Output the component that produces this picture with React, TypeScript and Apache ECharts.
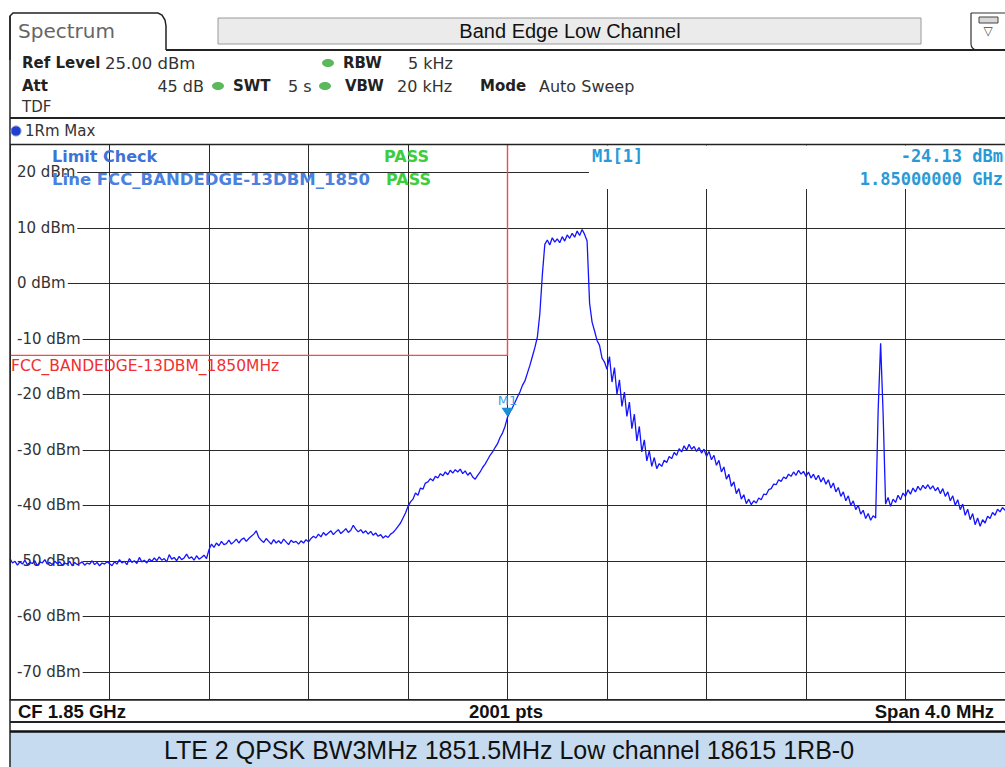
import React, { useEffect, useRef } from "react";
import * as echarts from "echarts";

// ---- Data ----
const traceStartMHz = 1848;
const traceStepMHz = 0.01; // 401 samples across the 4 MHz span
const traceDbm: number[] = [
  -49.6,-50.4,-50.1,-50.8,-50.2,-50.6,-49.9,-50.7,-50.3,-50.5,-50.0,-50.9,-50.2,-50.4,-49.8,-50.6,-50.3,-50.7,-50.1,-50.5,
  -50.2,-50.8,-50.4,-50.6,-50.1,-50.9,-50.3,-50.7,-50.5,-50.2,-50.8,-50.4,-50.6,-50.0,-50.7,-50.3,-50.9,-50.4,-50.6,-50.2,
  -50.5,-50.9,-50.2,-50.6,-49.8,-50.4,-50.1,-50.7,-49.6,-50.3,-50.0,-50.5,-49.4,-50.2,-49.9,-50.4,-49.7,-50.1,-49.5,-50.0,
  -49.3,-49.9,-49.6,-50.2,-48.9,-49.7,-49.4,-50.0,-49.2,-49.8,-49.5,-48.8,-49.6,-49.3,-49.9,-49.1,-49.7,-49.4,-49.0,-49.6,
  -48.0,-47.0,-47.6,-46.8,-47.3,-46.5,-47.1,-46.9,-46.3,-47.0,-46.6,-46.1,-46.8,-46.2,-45.9,-46.5,-46.0,-45.6,-45.2,-44.6,
  -45.8,-46.3,-46.7,-46.0,-46.5,-47.0,-46.2,-46.8,-46.4,-46.9,-46.1,-46.6,-47.1,-46.3,-46.7,-46.5,-47.0,-46.4,-46.8,-46.2,
  -46.6,-46.0,-45.6,-45.9,-45.2,-45.7,-44.9,-45.4,-45.0,-44.6,-45.3,-44.8,-44.4,-45.1,-44.7,-44.2,-44.9,-44.5,-43.6,-44.3,
  -44.8,-44.4,-45.0,-44.6,-45.2,-44.7,-45.4,-45.0,-45.6,-45.3,-45.9,-45.5,-45.8,-45.2,-44.9,-44.4,-43.8,-43.2,-42.3,-41.4,
  -40.2,-39.4,-38.9,-37.8,-38.2,-36.9,-37.1,-36.0,-35.8,-35.2,-35.6,-34.8,-35.1,-34.3,-34.7,-34.0,-34.5,-33.7,-34.2,-33.6,
  -34.0,-33.5,-34.3,-33.8,-34.6,-34.1,-34.9,-35.3,-34.6,-34.0,-33.2,-32.6,-31.8,-31.0,-30.4,-29.6,-28.9,-27.8,-27.0,-25.8,
  -24.13,-23.2,-22.4,-21.5,-20.5,-19.6,-18.4,-17.6,-16.2,-14.8,-13.2,-11.6,-9.7,-5.5,1.5,7.0,7.8,6.9,8.2,7.4,
  8.0,7.3,8.4,7.6,8.7,8.1,9.0,8.3,9.4,8.6,9.7,8.8,7.6,-3.6,-7.0,-8.6,-10.3,-11.2,-13.5,-14.2,
  -15.5,-13.2,-17.8,-15.2,-20.0,-17.4,-22.2,-19.6,-24.0,-21.4,-26.2,-23.6,-28.4,-25.8,-30.4,-28.2,-32.0,-30.2,-33.0,-31.4,
  -33.4,-32.5,-33.0,-31.9,-32.3,-31.2,-31.6,-30.5,-31.0,-29.8,-30.4,-29.3,-30.1,-29.0,-29.9,-29.4,-30.3,-29.6,-30.6,-29.9,
  -31.2,-30.3,-31.8,-31.0,-32.8,-31.9,-34.0,-33.1,-35.3,-34.4,-36.6,-35.8,-37.9,-37.0,-38.9,-38.1,-39.7,-38.9,-39.9,-39.2,
  -39.6,-38.7,-39.0,-38.0,-38.1,-37.2,-37.0,-36.2,-36.3,-35.4,-35.7,-34.9,-35.2,-34.4,-34.8,-34.0,-34.6,-33.7,-34.4,-33.9,
  -34.8,-34.0,-35.1,-34.4,-35.4,-34.6,-35.8,-35.0,-36.2,-35.4,-36.9,-36.0,-37.6,-36.8,-38.4,-37.6,-39.2,-38.3,-40.0,-39.2,
  -40.8,-40.0,-41.6,-40.9,-42.4,-41.5,-42.7,-41.9,-42.3,-23.0,-10.8,-23.5,-39.8,-38.6,-40.2,-38.9,-39.5,-38.2,-39.0,-37.8,
  -38.4,-37.2,-38.0,-36.9,-37.6,-36.6,-37.3,-36.4,-37.0,-36.3,-37.1,-36.5,-37.4,-36.8,-37.9,-37.0,-38.4,-37.6,-39.2,-38.3,
  -40.0,-39.0,-40.8,-39.8,-41.8,-40.7,-42.6,-41.5,-43.5,-42.3,-43.8,-42.6,-43.2,-42.0,-42.4,-41.3,-41.8,-40.7,-41.2,-40.4,
  -40.9,
];

const limitFreqMHz = [1848, 1850, 1850];
const limitDbm = [-13, -13, 25];

const markerFreqMHz = 1850;
const markerDbm = -24.13;

const xMinMHz = 1848;
const xMaxMHz = 1852;
const xDivMHz = 0.4;
const yMinDbm = -75;
const yMaxDbm = 25;

const F = "'DejaVu Sans'";
const FM = "'DejaVu Sans Mono'";
const FL = "'Liberation Sans'";

function txt(x: number, y: number, text: string, font: string, fill: string, align = "left", z = 20) {
  return {
    type: "text",
    z,
    silent: true,
    style: {
      x, y, text, font, fill,
      textAlign: align, align,
      textVerticalAlign: "middle", verticalAlign: "middle",
    },
  };
}
function ln(x1: number, y1: number, x2: number, y2: number, color: string, width: number, z = 15) {
  return { type: "line", z, silent: true, shape: { x1, y1, x2, y2 }, style: { stroke: color, lineWidth: width } };
}

export default function App() {
  const ref = useRef<HTMLDivElement>(null);
  useEffect(() => {
    if (!ref.current) return;
    const chart = echarts.init(ref.current, null, { renderer: "svg" });
    const traceData = traceDbm.map((v, i) => [traceStartMHz + i * traceStepMHz, v]);
    const limitData = limitFreqMHz.map((f, i) => [f, limitDbm[i]]);
    const yLabel = (v: number) => (v % 10 === 0 && v < yMaxDbm && v > yMinDbm ? `${v} dBm` : "");

    const graphic: any[] = [
      // tab outline
      { type: "polyline", z: 15, silent: true, shape: { points: [[10, 60], [10, 16], [13, 13], [158, 13], [162, 15], [165, 20], [166, 26], [166, 50]] }, style: { stroke: "#222", lineWidth: 1.5, fill: null } },
      ln(166, 50, 1005, 50, "#222", 2),
      { type: "rect", z: 14, silent: true, shape: { x: 218, y: 18, width: 703, height: 26 }, style: { fill: "#ebebeb", stroke: "#9a9a9a", lineWidth: 1 } },
      { type: "rect", z: 14, silent: true, shape: { x: 971, y: 13, width: 40, height: 37, r: [0, 0, 0, 6] }, style: { fill: "#fff", stroke: "#333", lineWidth: 1.2 } },
      { type: "rect", z: 15, silent: true, shape: { x: 979, y: 17, width: 19, height: 6 }, style: { fill: "#d8d8d8", stroke: "#444", lineWidth: 1 } },
      txt(988, 31, "▽", `12px ${F}`, "#444", "center"),
      ln(10, 16, 10, 767, "#222", 1.5),
      ln(10, 118, 1005, 118, "#222", 2),
      ln(10, 144.5, 1005, 144.5, "#222", 1.5),
      ln(10, 722, 1005, 722, "#222", 2),
      { type: "rect", z: 14, silent: true, shape: { x: 10, y: 731, width: 1000, height: 40 }, style: { fill: "#c6dbef" } },
      ln(10, 731.5, 1005, 731.5, "#111", 2.5),
      // header texts
      txt(18, 31, "Spectrum", `20px ${F}`, "#666"),
      txt(570, 31, "Band Edge Low Channel", `20px ${FL}`, "#111", "center"),
      txt(22, 63, "Ref Level", `bold 15px ${F}`, "#222"),
      txt(105, 63, "25.00 dBm", `16.5px ${F}`, "#333"),
      txt(343, 63, "RBW", `bold 15px ${F}`, "#222"),
      txt(408, 63, "5 kHz", `16px ${F}`, "#333"),
      txt(22, 86, "Att", `bold 15px ${F}`, "#222"),
      txt(204, 86, "45 dB", `16px ${F}`, "#333", "right"),
      txt(233, 86, "SWT", `bold 15px ${F}`, "#222"),
      txt(288, 86, "5 s", `16px ${F}`, "#333"),
      txt(345, 86, "VBW", `bold 15px ${F}`, "#222"),
      txt(397, 86, "20 kHz", `16px ${F}`, "#333"),
      txt(480, 86, "Mode", `bold 15px ${F}`, "#222"),
      txt(539, 86, "Auto Sweep", `16px ${F}`, "#333"),
      txt(22, 107, "TDF", `15px ${F}`, "#333"),
      { type: "ellipse", z: 15, silent: true, shape: { cx: 328, cy: 63, rx: 6, ry: 4 }, style: { fill: "#5cb85c" } },
      { type: "ellipse", z: 15, silent: true, shape: { cx: 218, cy: 86, rx: 6, ry: 4 }, style: { fill: "#5cb85c" } },
      { type: "ellipse", z: 15, silent: true, shape: { cx: 325, cy: 86, rx: 6, ry: 4 }, style: { fill: "#5cb85c" } },
      { type: "circle", z: 15, silent: true, shape: { cx: 16, cy: 131, r: 5 }, style: { fill: "#1f3fd0", stroke: "#7a8ad8", lineWidth: 1 } },
      txt(25, 131, "1Rm Max", `15px ${F}`, "#333"),
      // marker info box covers grid
      { type: "rect", z: 12, silent: true, shape: { x: 589, y: 145.5, width: 420, height: 43.5 }, style: { fill: "#fff" } },
      txt(52, 156, "Limit Check", `bold 16px ${F}`, "#3d73d6"),
      txt(52, 179, "Line FCC_BANDEDGE-13DBM_1850", `bold 16.5px ${F}`, "#4a80e0"),
      txt(384, 156, "PASS", `bold 16px ${F}`, "#3ccc3c"),
      txt(386, 179, "PASS", `bold 16px ${F}`, "#3ccc3c"),
      txt(592, 156, "M1[1]", `bold 17px ${FM}`, "#2a9ad6"),
      txt(1003, 156, `${markerDbm.toFixed(2)} dBm`, `bold 17px ${FM}`, "#2a9ad6", "right"),
      txt(1003, 179, `${(markerFreqMHz / 1000).toFixed(8)} GHz`, `bold 17px ${FM}`, "#2a9ad6", "right"),
      txt(11, 366, "FCC_BANDEDGE-13DBM_1850MHz", `15.5px ${F}`, "#f03030"),
      // footer
      txt(18, 711, "CF 1.85 GHz", `bold 18.5px ${FL}`, "#111"),
      txt(506, 711, "2001 pts", `bold 18.5px ${FL}`, "#111", "center"),
      txt(994, 711, "Span 4.0 MHz", `bold 18.5px ${FL}`, "#111", "right"),
      txt(509, 750, "LTE 2 QPSK BW3MHz 1851.5MHz Low channel 18615 1RB-0", `25px ${FL}`, "#111", "center"),
    ];

    chart.setOption({
      animation: false,
      backgroundColor: "#ffffff",
      grid: { left: 10, top: 144.5, width: 997, height: 555 },
      xAxis: {
        type: "value",
        min: xMinMHz,
        max: xMaxMHz,
        interval: xDivMHz,
        axisLabel: { show: false },
        axisTick: { show: false },
        axisLine: { show: true, onZero: false, lineStyle: { color: "#222", width: 1.5 } },
        splitLine: { show: true, lineStyle: { color: "#2a2a2a", width: 1 } },
      },
      yAxis: [
        {
          type: "value",
          min: yMinDbm,
          max: yMaxDbm,
          splitNumber: 10,
          minInterval: 10,
          maxInterval: 10,
          axisLabel: { show: false },
          axisTick: { show: false },
          axisLine: { show: false },
          splitLine: { show: true, lineStyle: { color: "#2a2a2a", width: 1 } },
        },
        {
          type: "value",
          min: yMinDbm,
          max: yMaxDbm,
          splitNumber: 10,
          minInterval: 10,
          maxInterval: 10,
          position: "left",
          z: 1,
          axisTick: { show: false },
          axisLine: { show: false },
          splitLine: { show: false },
          axisLabel: {
            inside: true,
            margin: 1,
            showMinLabel: false,
            showMaxLabel: false,
            formatter: yLabel,
            fontFamily: "DejaVu Sans",
            fontSize: 15,
            color: "#333",
            backgroundColor: "#fff",
            padding: [1, 2, 1, 6],
          },
        },
      ],
      graphic,
      series: [
        {
          name: "Limit",
          type: "line",
          data: limitData,
          xAxisIndex: 0,
          yAxisIndex: 0,
          symbol: "none",
          z: 2,
          lineStyle: { color: "#ff4545", width: 1.4 },
        },
        {
          name: "1Rm Max",
          type: "line",
          data: traceData,
          xAxisIndex: 0,
          yAxisIndex: 0,
          symbol: "none",
          z: 3,
          lineStyle: { color: "#1414ff", width: 1.3 },
          markPoint: {
            symbol: "triangle",
            symbolRotate: 180,
            symbolSize: [12, 9],
            symbolOffset: [0, -5],
            itemStyle: { color: "#1a90d8" },
            label: {
              show: true,
              position: "top",
              distance: 1,
              formatter: "M1",
              color: "#3aa0e0",
              fontFamily: "DejaVu Sans",
              fontSize: 13,
            },
            data: [{ coord: [markerFreqMHz, markerDbm] }],
          },
        },
      ],
    });
    return () => chart.dispose();
  }, []);
  return <div ref={ref} style={{ position: "absolute", left: 0, top: 0, width: 1005, height: 767 }} />;
}
